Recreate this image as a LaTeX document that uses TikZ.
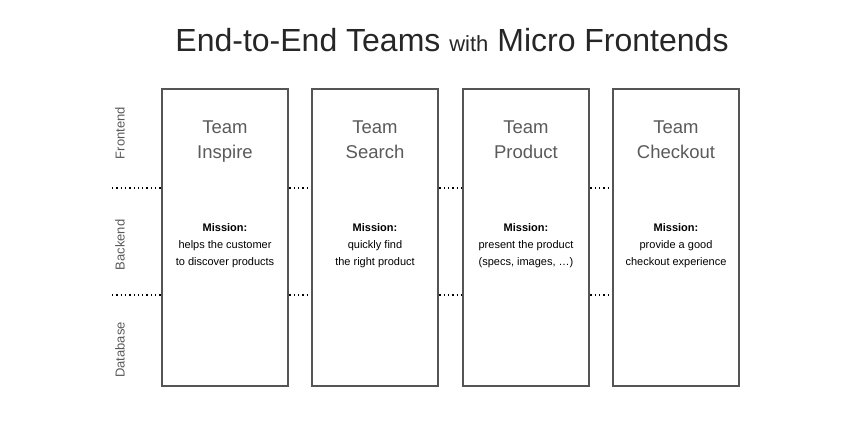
\documentclass[tikz,border=0pt]{standalone}
\usepackage{fontspec}
\setmainfont{Liberation Sans}
\usetikzlibrary{positioning}
\definecolor{boxgray}{HTML}{555555}
\definecolor{txtgray}{HTML}{5a5a5a}
\begin{document}
\begin{tikzpicture}[x=1pt,y=-1pt]
\tikzset{team/.style={draw=boxgray,line width=2.6pt,minimum width=126pt,minimum height=297pt,inner sep=0pt},
  lane/.style={rotate=90,text=txtgray,font=\fontsize{13}{15}\selectfont},
  dots/.style={line width=1.3pt,black,dash pattern=on 1.3pt off 3pt}}
\useasboundingbox (0,0) rectangle (850,425);
\node[text=black!85] at (452,40) {\fontsize{32}{36}\selectfont End-to-End Teams {\fontsize{22}{26}\selectfont with} Micro Frontends};
% lanes
\node[lane] (fe) at (120,133) {Frontend};
\node[lane] (be) at (120,245) {Backend};
\node[lane] (db) at (120,350) {Database};
% teams
\foreach \n/\x/\t/\m in {ins/225/Inspire/{helps the customer\\to discover products},
  sea/375/Search/{quickly find\\the right product},
  pro/526/Product/{present the product\\(specs, images, \dots)},
  che/676/Checkout/{provide a good\\checkout experience}}{
  \node[team] (\n) at (\x,237.5) {};
  \node[text=txtgray,align=center,anchor=base,font=\fontsize{18.5}{25}\selectfont] at (\x,158) {Team\\\t};
  \node[align=center,anchor=base,font=\fontsize{11}{17}\selectfont] at (\x,265) {\textbf{Mission:}\\\m};
}
% layer separators
\foreach \y in {188,295}{
  \draw[dots] (112,\y) -- (ins.west |- 0,\y);
  \draw[dots] (ins.east |- 0,\y) -- (sea.west |- 0,\y);
  \draw[dots] (sea.east |- 0,\y) -- (pro.west |- 0,\y);
  \draw[dots] (pro.east |- 0,\y) -- (che.west |- 0,\y);
}
\end{tikzpicture}
\end{document}
